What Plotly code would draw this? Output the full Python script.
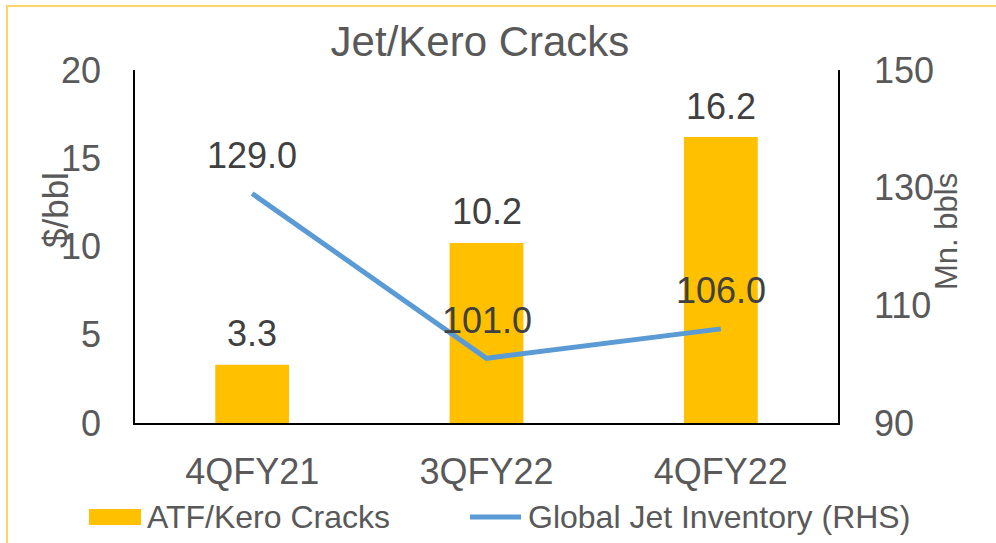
import plotly.graph_objects as go

# Chart data
quarters = ["4QFY21", "3QFY22", "4QFY22"]
atf_kero_cracks = [3.3, 10.2, 16.2]          # $/bbl (left axis)
global_jet_inventory = [129.0, 101.0, 106.0]  # Mn. bbls (right axis)

left_ticks = [0, 5, 10, 15, 20]
right_ticks = [90, 110, 130, 150]

FONT = "Liberation Sans, Arial, sans-serif"
GREY = "#595959"
DARK = "#404040"
GOLD = "#FFC000"
BLUE = "#5B9BD5"

W, H = 996, 543
L, R, T, B = 135, 158, 70, 120
PW, PH = W - L - R, H - T - B


def px_x(px):
    return (px - L) / PW


def px_y(py):
    return (H - B - py) / PH


fig = go.Figure()

fig.add_trace(go.Bar(
    x=quarters, y=atf_kero_cracks, name="ATF/Kero Cracks",
    marker=dict(color=GOLD, line=dict(width=0)), width=0.315,
    yaxis="y", showlegend=False, hoverinfo="x+y",
))

fig.add_trace(go.Scatter(
    x=quarters, y=global_jet_inventory, name="Global Jet Inventory (RHS)",
    mode="lines", line=dict(color=BLUE, width=5),
    yaxis="y2", showlegend=False,
))

annotations = []
# value labels above the bars
for q, v in zip(quarters, atf_kero_cracks):
    annotations.append(dict(
        x=q, y=v, xref="x", yref="y", text=f"{v:.1f}", showarrow=False,
        yanchor="middle", yshift=31, font=dict(family=FONT, size=36, color=DARK),
    ))
# value labels above the line points
for q, v in zip(quarters, global_jet_inventory):
    annotations.append(dict(
        x=q, y=v, xref="x", yref="y2", text=f"{v:.1f}", showarrow=False,
        yanchor="middle", yshift=38, font=dict(family=FONT, size=36, color=DARK),
    ))

# axis titles
annotations.append(dict(
    x=px_x(55), y=px_y(210), xref="paper", yref="paper", text="$/bbl",
    textangle=-90, showarrow=False, xanchor="center", yanchor="middle",
    font=dict(family=FONT, size=35, color=GREY),
))
annotations.append(dict(
    x=px_x(946), y=px_y(232), xref="paper", yref="paper", text="Mn. bbls",
    textangle=-90, showarrow=False, xanchor="center", yanchor="middle",
    font=dict(family=FONT, size=31, color=GREY),
))

# legend entries
annotations.append(dict(
    x=px_x(145), y=px_y(517), xref="paper", yref="paper", text="ATF/Kero Cracks",
    showarrow=False, xanchor="left", yanchor="middle",
    font=dict(family=FONT, size=32, color=GREY),
))
annotations.append(dict(
    x=px_x(526), y=px_y(517), xref="paper", yref="paper",
    text="Global Jet Inventory (RHS)",
    showarrow=False, xanchor="left", yanchor="middle",
    font=dict(family=FONT, size=32, color=GREY),
))

shapes = [
    # legend swatches
    dict(type="rect", xref="paper", yref="paper",
         x0=px_x(89), x1=px_x(141), y0=px_y(525), y1=px_y(509),
         fillcolor=GOLD, line=dict(width=0)),
    dict(type="line", xref="paper", yref="paper",
         x0=px_x(470), x1=px_x(521), y0=px_y(517), y1=px_y(517),
         line=dict(color=BLUE, width=5)),
    # outer chart border
    dict(type="rect", xref="paper", yref="paper",
         x0=px_x(7), x1=px_x(1005), y0=px_y(560), y1=px_y(6),
         line=dict(color="#FFD467", width=2), fillcolor="rgba(0,0,0,0)"),
]

fig.update_layout(
    width=W, height=H,
    margin=dict(l=L, r=R, t=T, b=B, pad=0),
    paper_bgcolor="white", plot_bgcolor="white",
    font=dict(family=FONT, color=GREY),
    title=dict(text="Jet/Kero Cracks", x=480 / W, y=1 - 41 / H,
               xanchor="center", yanchor="middle",
               font=dict(family=FONT, size=42, color=GREY)),
    xaxis=dict(
        type="category", range=[-0.5, 2.5], showline=True, linecolor="black",
        linewidth=1.5, ticks="", showgrid=False, zeroline=False,
        tickfont=dict(family=FONT, size=36, color=GREY), ticklabelstandoff=16,
    ),
    yaxis=dict(
        range=[0, 20], tickvals=left_ticks, showline=True, linecolor="black",
        linewidth=1.5, ticks="", showgrid=False, zeroline=False,
        tickfont=dict(family=FONT, size=36, color=GREY), ticklabelstandoff=25,
    ),
    yaxis2=dict(
        range=[90, 150], tickvals=right_ticks, overlaying="y", side="right",
        showline=True, linecolor="black", linewidth=1.5, ticks="",
        showgrid=False, zeroline=False,
        tickfont=dict(family=FONT, size=36, color=GREY), ticklabelstandoff=27,
    ),
    annotations=annotations,
    shapes=shapes,
    showlegend=False,
)

fig.write_html("out.html")
